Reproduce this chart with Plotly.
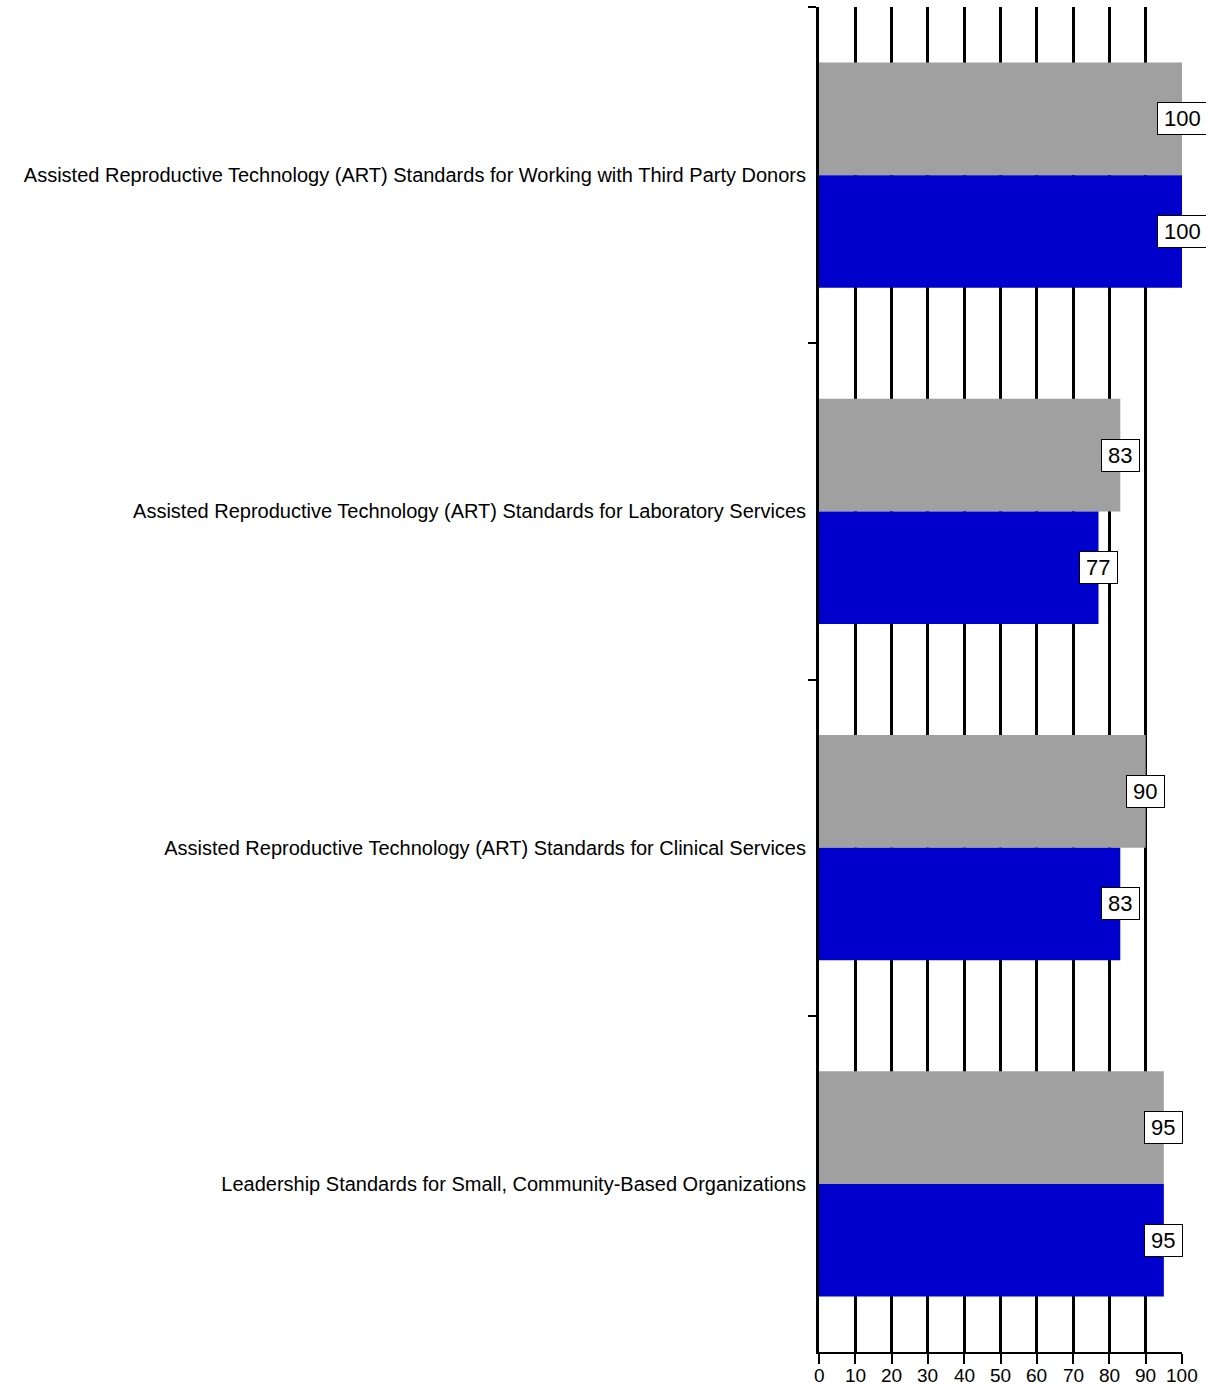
import plotly.graph_objects as go

categories = [
    "Assisted Reproductive Technology (ART) Standards for Working with Third Party Donors",
    "Assisted Reproductive Technology (ART) Standards for Laboratory Services",
    "Assisted Reproductive Technology (ART) Standards for Clinical Services",
    "Leadership Standards for Small, Community-Based Organizations",
]
grey_values = [100, 83, 90, 95]
blue_values = [100, 77, 83, 95]
x_ticks = [0, 10, 20, 30, 40, 50, 60, 70, 80, 90, 100]

FONT = "Liberation Sans, Arial, sans-serif"

fig = go.Figure()
fig.add_trace(go.Bar(y=categories, x=grey_values, orientation="h",
                     marker=dict(color="#A0A0A0", line=dict(width=0)), showlegend=False))
fig.add_trace(go.Bar(y=categories, x=blue_values, orientation="h",
                     marker=dict(color="#0000CC", line=dict(width=0)), showlegend=False))

bar_half = (1 - 0.33) / 4.0
for i, (g, b) in enumerate(zip(grey_values, blue_values)):
    for val, off in ((g, -bar_half), (b, bar_half)):
        txt = str(val)
        fig.add_annotation(x=val, y=i + off, xref="x", yref="y", text=txt,
                           showarrow=False, bgcolor="white", bordercolor="black",
                           borderwidth=1, borderpad=2, width=len(txt) * 12.3 + 8,
                           height=27,
                           font=dict(family=FONT, size=22, color="black"))

# x tick labels as text placed under the axis
for t in x_ticks:
    fig.add_annotation(x=t, y=0, xref="x", yref="paper", text=str(t),
                       showarrow=False, yanchor="top", xanchor="center", yshift=-11,
                       font=dict(family=FONT, size=19, color="black"))

fig.update_layout(
    width=1206, height=1388,
    margin=dict(l=819, r=24, t=7, b=36),
    paper_bgcolor="white", plot_bgcolor="white",
    barmode="group", bargap=0.33, bargroupgap=0,
    font=dict(family=FONT, size=20, color="black"),
)
fig.update_xaxes(range=[0, 100], tickvals=x_ticks, showticklabels=False,
                 showgrid=True, gridcolor="black", gridwidth=3,
                 showline=True, linecolor="black", linewidth=2,
                 ticks="outside", ticklen=10, tickwidth=2, tickcolor="black",
                 zeroline=False, automargin=False, fixedrange=True)
fig.update_yaxes(type="category", categoryorder="array", categoryarray=categories,
                 autorange="reversed", showgrid=False,
                 showline=True, linecolor="black", linewidth=3,
                 ticks="outside", tickson="boundaries", ticklen=8, tickwidth=2, tickcolor="black",
                 tickfont=dict(family=FONT, size=20, color="black"),
                 ticklabelstandoff=6, zeroline=False, automargin=False)

fig.write_html("out.html")
